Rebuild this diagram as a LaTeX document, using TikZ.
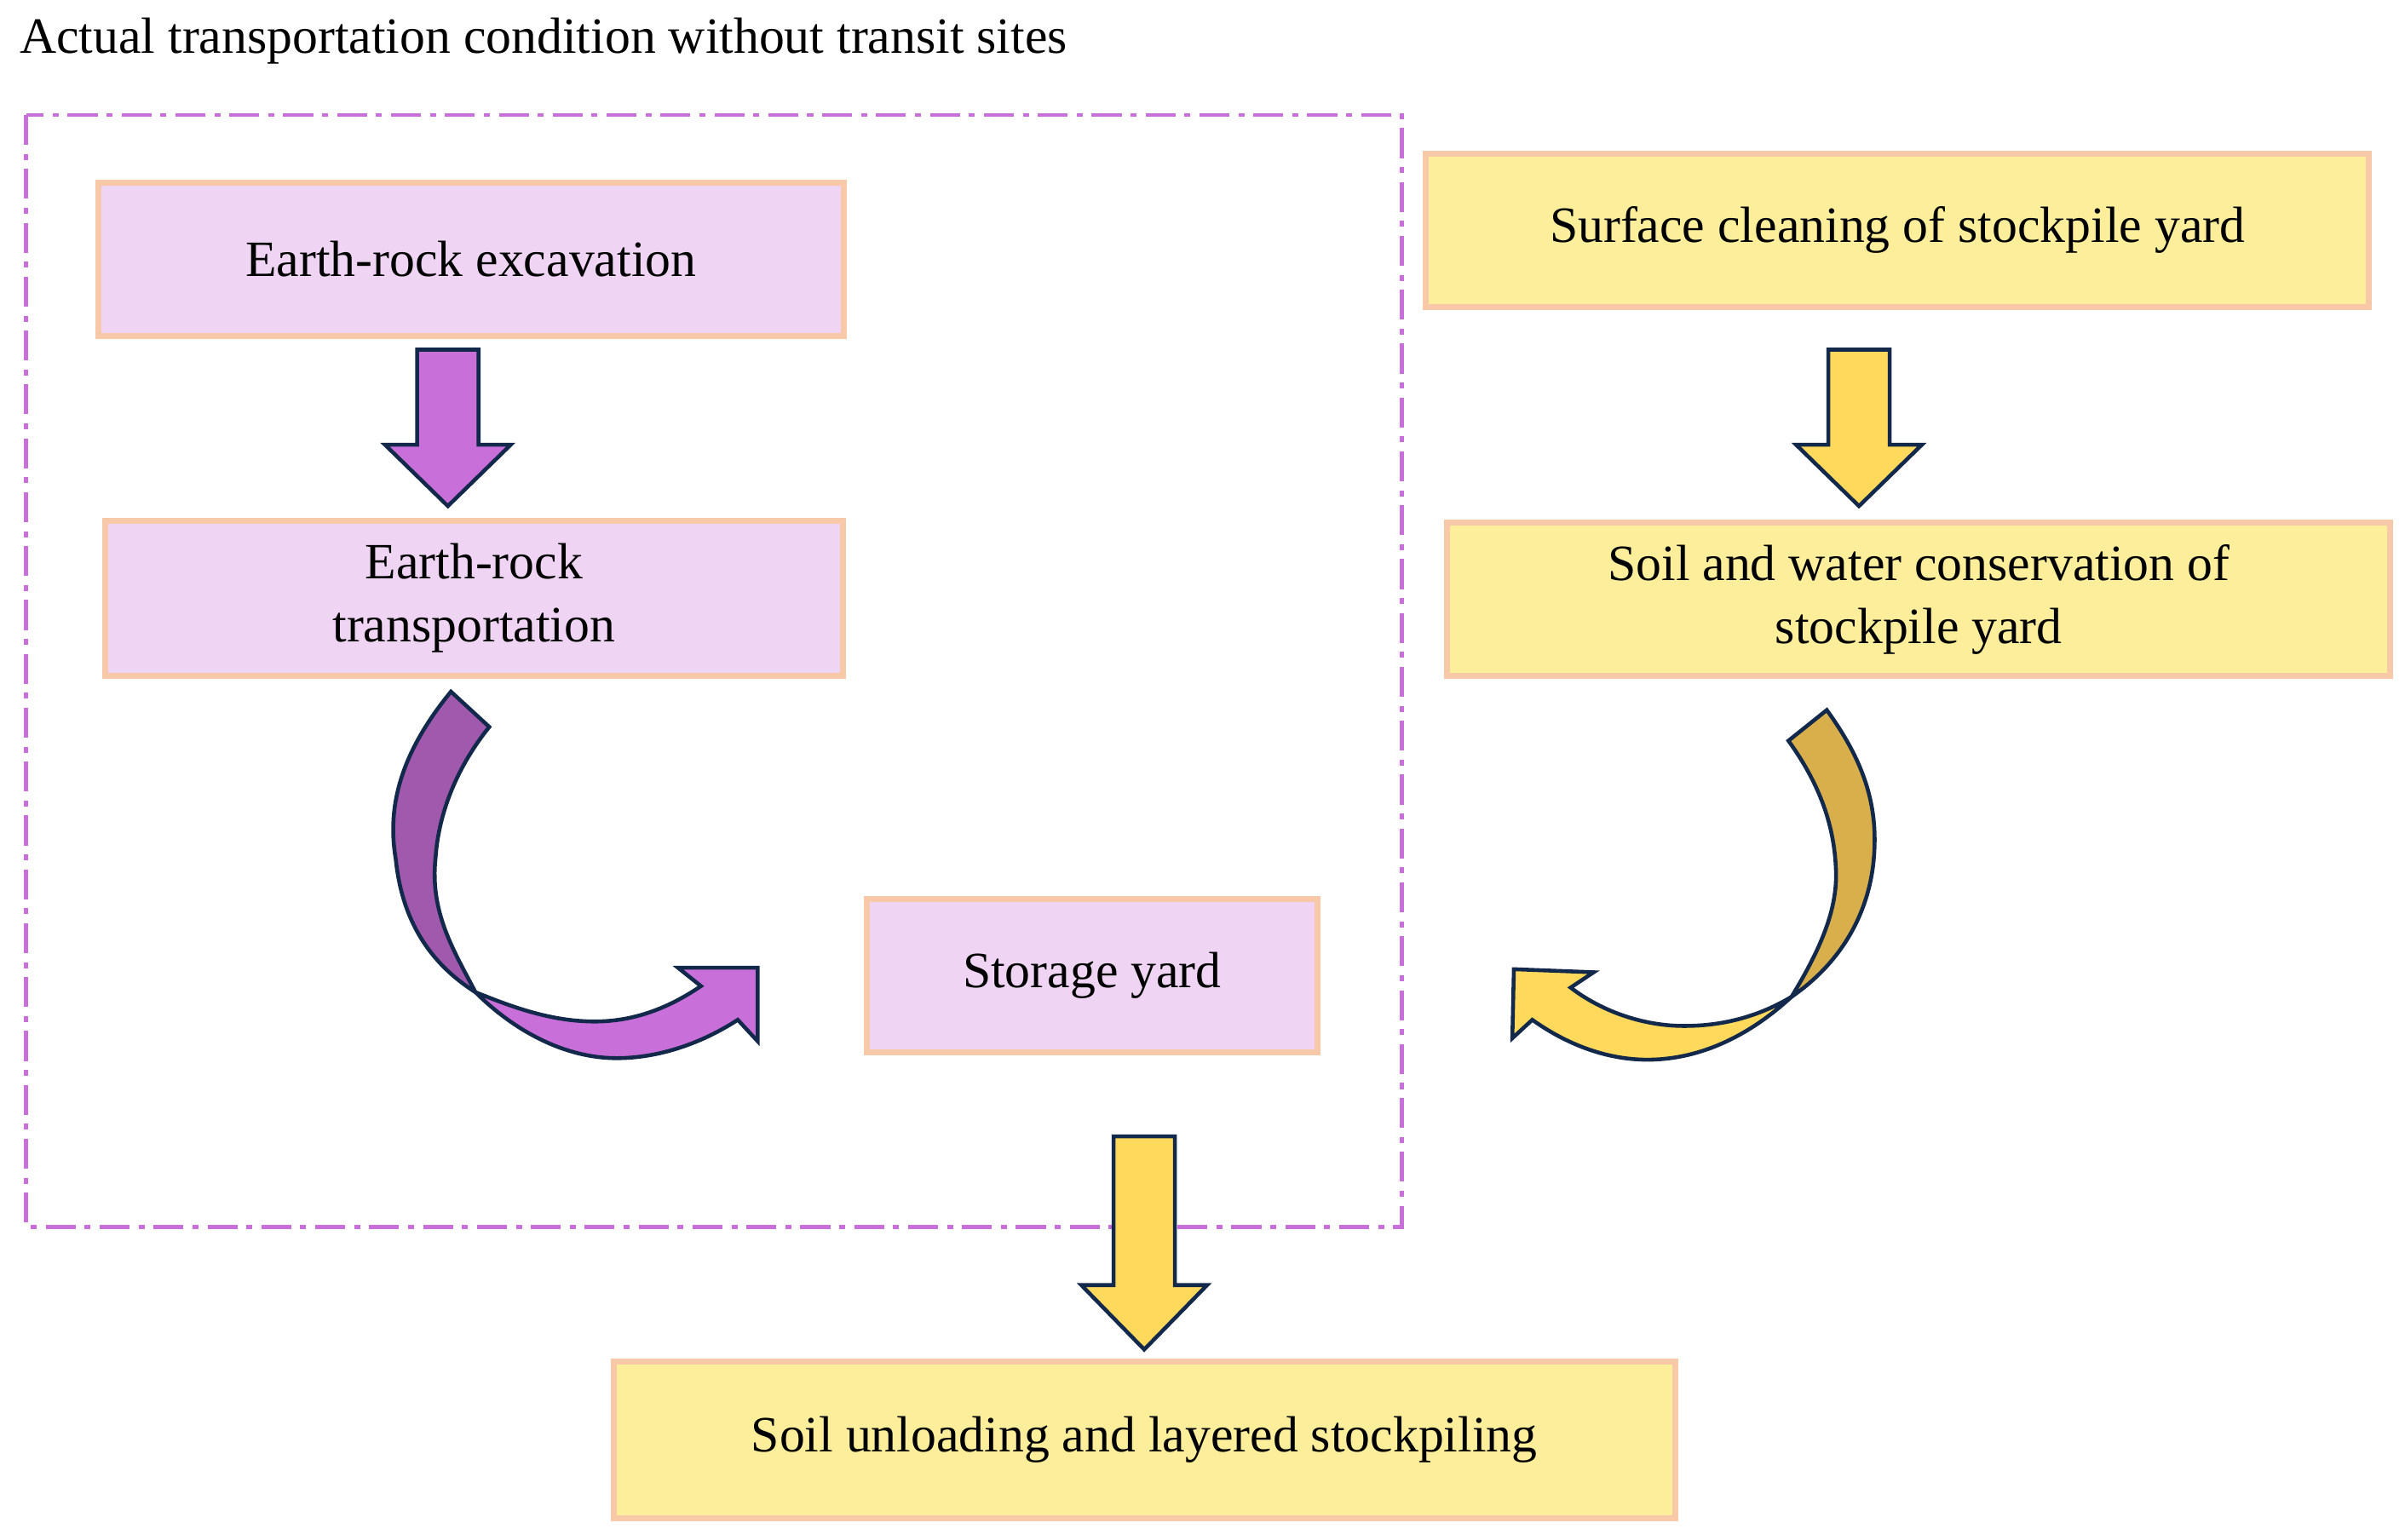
\documentclass[tikz,border=0pt]{standalone}
\usepackage{fontspec}
\setmainfont{Liberation Serif}
\definecolor{pfill}{HTML}{EFD5F3}
\definecolor{yfill}{HTML}{FDEE9B}
\definecolor{peach}{HTML}{F8C9A8}
\definecolor{navy}{HTML}{13294B}
\definecolor{parrow}{HTML}{C96FD9}
\definecolor{pdark}{HTML}{A159AD}
\definecolor{yarrow}{HTML}{FED95C}
\definecolor{ydark}{HTML}{D8AF4A}
\definecolor{dashp}{HTML}{C96FD9}
\begin{document}
\begin{tikzpicture}[x=0.018cm, y=-0.018cm,
        pbox/.style={rectangle, fill=pfill, draw=peach, line width=2pt, align=center, font=\fontsize{17}{21}\selectfont, inner sep=2pt},
        ybox/.style={rectangle, fill=yfill, draw=peach, line width=2pt, align=center, font=\fontsize{17}{21}\selectfont, inner sep=2pt},
        blockp/.style={fill=parrow, draw=navy, line width=1.3pt, line join=miter},
        blocky/.style={fill=yarrow, draw=navy, line width=1.3pt, line join=miter},
      ]
      \useasboundingbox (0,0) rectangle (1568,1004);
      %Title and frame
      \node[anchor=west, font=\fontsize{17}{21}\selectfont] (title) at (6,27) {Actual transportation condition without transit sites};
      \draw[dashp, line width=1.3pt, dash pattern=on 10pt off 3pt on 2pt off 3pt] (17,75) rectangle (914,800);

      %Nodes
      \node[pbox, minimum width=8.75cm, minimum height=1.8cm] (exc)     at (307,169) {Earth-rock excavation};
      \node[pbox, minimum width=8.66cm, minimum height=1.82cm] (trans)  at (309,390) {Earth-rock\\transportation};
      \node[pbox, minimum width=5.29cm, minimum height=1.8cm] (store)   at (712,636) {Storage yard};
      \node[ybox, minimum width=11.07cm, minimum height=1.8cm] (clean)  at (1237,150) {Surface cleaning of stockpile yard};
      \node[ybox, minimum width=11.07cm, minimum height=1.8cm] (soil)   at (1251,391) {Soil and water conservation of\\stockpile yard};
      \node[ybox, minimum width=12.46cm, minimum height=1.84cm] (unload) at (746,939) {Soil unloading and layered stockpiling};

      %Block arrows
      \draw[blockp] (272,228) -- (312,228) -- (312,290) -- (333,290) -- (292,330) -- (251,290) -- (272,290) -- cycle;
      \draw[blocky] (1192,228) -- (1232,228) -- (1232,290) -- (1253,290) -- (1212,330) -- (1171,290) -- (1192,290) -- cycle;
      \draw[blocky] (726,741) -- (766,741) -- (766,838) -- (787,838) -- (746,880) -- (705,838) -- (726,838) -- cycle;

      %Curved arrows
      \draw[blockp, fill=pdark] (294,451) .. controls (262,490) and (252,525) .. (258,560)
        .. controls (262,600) and (280,628) .. (310,647)
        .. controls (296,620) and (280,595) .. (284,559)
        .. controls (286,530) and (298,500) .. (319,474) -- cycle;
      \draw[blockp] (310,647) .. controls (335,672) and (368,690) .. (402,690)
        .. controls (430,690) and (458,680) .. (481,665) -- (494,679) -- (494,631) -- (442,631) -- (457,643)
        .. controls (432,660) and (408,667) .. (383,666)
        .. controls (355,665) and (330,655) .. (310,647) -- cycle;
      \draw[blocky, fill=ydark] (1191,463) .. controls (1212,492) and (1224,520) .. (1222,555)
        .. controls (1220,595) and (1200,628) .. (1168,650)
        .. controls (1185,622) and (1198,595) .. (1197,568)
        .. controls (1196,535) and (1184,508) .. (1166,483) -- cycle;
      \draw[blocky] (1168,650) .. controls (1142,674) and (1110,691) .. (1074,691)
        .. controls (1046,691) and (1020,680) .. (999,665) -- (986,677) -- (987,632) -- (1039,634) -- (1024,644)
        .. controls (1045,660) and (1072,669) .. (1098,669)
        .. controls (1125,669) and (1148,662) .. (1168,650) -- cycle;
    \end{tikzpicture}
\end{document}
